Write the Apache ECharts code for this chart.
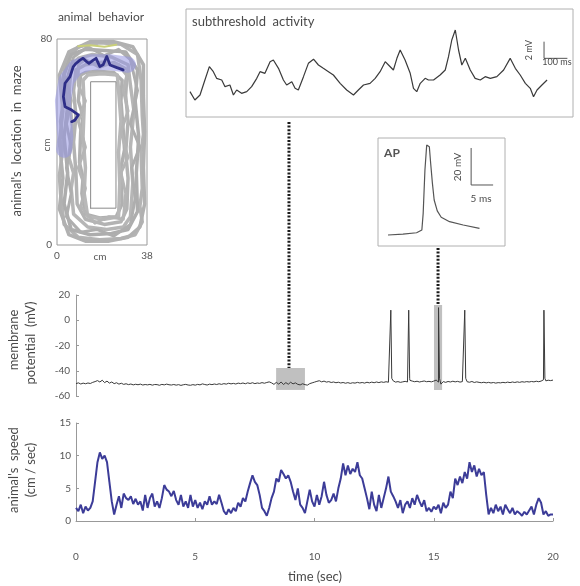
<!DOCTYPE html>
<html><head><meta charset="utf-8">
<script src="https://cdn.jsdelivr.net/npm/echarts@6/dist/echarts.min.js"></script>
<style>html,body{margin:0;padding:0;background:#fff}#c{width:580px;height:586px}</style>
</head><body><div id="c"></div><script>
// ---------- data ----------
// maze (cm): gray trajectory loops, inner obstacle, current (blue) path
const mazeLoop1 = [[4,72],[2,62],[2.5,55],[1.5,48],[2.5,41],[2,34],[1,27],[1.5,20],[3,8],[9,3],[18,2],[27,2.5],[33,4],[36,9],[35,15],[36,22],[35.5,36],[36.5,43],[36,50],[35.5,64],[34,74],[27,78],[18,78.5],[9,77],[4,72]];
const mazeLoop2 = [[10,66],[9,56],[11,50],[10,44],[9.5,32],[11,26],[10.5,20],[12,12],[18,10.5],[25,11],[27.5,16],[27,30],[28.5,37],[28,44],[27,56],[27.5,64],[24,67],[17,67.5],[12,67],[10,66]];
const mazeLoop3 = [[6,70],[5,58],[6.5,46],[5,34],[7,28],[6,22],[7,12],[13,7],[21,6],[28,7],[31,11],[32,24],[31,38],[32.5,52],[31,62],[30,70],[23,73],[15,74],[9,72.5],[6,70]];
const mazeLoop4 = [[3,66],[4.5,54],[3,42],[4.5,28],[3,16],[6,6],[14,4],[23,4.5],[30,6],[34,13],[33.5,28],[34.5,42],[33,56],[34,68],[29,75],[20,75.5],[12,76],[6,74],[3,66]];
const mazeLoop5 = [[8,68],[7,60],[8,50],[7,40],[8,28],[8.5,16],[12,10],[20,8],[27,9],[29.5,14],[30,26],[29,36],[30,48],[29,58],[29.5,66],[26,70],[19,71],[12,70],[8,68]];
const mazeLoop6 = [[5,75],[1,66],[2.5,52],[1,40],[2.5,26],[1,14],[5,4],[12,1.5],[22,1.5],[30,3],[35,7],[37,16],[36.5,30],[37,44],[36.5,58],[36.5,70],[32,77],[24,79],[14,79],[5,75]];
const mazeLoop7 = [[11,64],[11.5,54],[11,42],[12,30],[11.5,20],[13,11],[20,10],[26,11],[26.5,24],[26,36],[27,48],[26,60],[25.5,66],[19,66.5],[13,66],[11,64]];
const mazeLoop8 = [[7,73],[4,64],[6,56],[4,47],[6,38],[4,30],[6,20],[4,11],[10,5],[17,6],[24,3.5],[31,8],[33,18],[31.5,30],[35,38],[31,47],[34,60],[31,72],[26,76],[20,73.5],[13,77],[7,73]];
const mazeLoop9 = [[9,70],[9,62],[12,56],[9,48],[12,38],[9,30],[12,22],[10,15],[16,8.5],[22,11],[28,10],[29,20],[27,28],[30,34],[27,44],[30,52],[28,60],[30,68],[24,71],[18,69],[12,72],[9,70]];
const mazeInner = [[14.2,14.3],[24.9,14.3],[24.9,63.4],[14.2,63.4],[14.2,14.3]];
const mazeShade = [[30,70],[22,71],[14,71],[8,69],[4,64],[2.5,56],[3,48],[3.5,42],[3,37]];
const mazeYellow = [[9,77.2],[14,77.6],[20,77],[25,77.8]];
const mazeBlue = [[27.9,68],[25,69],[22.4,69.9],[21,73.2],[19.5,70],[18.1,69.3],[16.5,72.5],[15.3,71.8],[13.5,70.5],[12.5,71.2],[11,72.5],[9.7,71.8],[8,70.5],[6.9,69.3],[5.5,65.4],[3.4,62.8],[2.7,57.6],[3.4,53.7],[6.2,52.4],[9,50.5],[7.6,48.5],[6.2,47.9]];

// subthreshold activity (ms, mV)
const subTime = [0,21,43,64,83,100,114,136,150,171,186,200,221,243,264,286,300,321,343,357,379,400,414,436,450,464,486,507,529,550,571,593,614,643,671,700,721,743,771,793,814,836,850,871,886,900,921,943,957,971,986,1007,1021,1043,1071,1093,1107,1121,1136,1150,1164,1179,1200,1221,1243,1264,1286,1314,1343,1371,1393,1414,1436,1457,1471,1486,1507,1529];
const subVolt = [-53.0,-54.0,-53.4,-51.6,-50.0,-50.6,-51.4,-51.6,-52.4,-52.2,-53.4,-52.8,-53.2,-53.0,-52.4,-51.4,-50.6,-50.8,-49.4,-49.2,-50.2,-51.6,-52.2,-51.8,-52.6,-52.8,-51.2,-49.6,-49.1,-49.8,-50.2,-50.6,-51.0,-52.0,-52.8,-53.4,-52.8,-52.2,-52.0,-51.4,-50.6,-49.4,-49.8,-50.4,-49.0,-48.0,-49.2,-50.8,-52.6,-53.0,-52.0,-51.4,-51.6,-51.6,-51.0,-50.4,-48.8,-46.8,-45.6,-48.0,-49.8,-49.0,-50.4,-51.4,-51.6,-51.2,-51.4,-51.2,-50.4,-49.0,-50.2,-51.0,-52.0,-52.6,-53.6,-52.8,-52.2,-51.6];

// action potential (ms, mV)
const apTime = [0,3.4,6.5,7.7,8.0,8.4,8.8,9.4,9.7,10.1,10.5,11.2,12.1,14.0,17.1,20.8];
const apVolt = [-55,-54.5,-53.8,-52.3,-43.3,-19.9,-6.4,-7.3,-16.2,-27.1,-36.1,-42,-45.4,-47.8,-49.6,-51.4];

// membrane potential, sampled every 0.1 s from 0 to 20 s (mV)
const mpVals = [
-50.2,-49.6,-50.5,-49.8,-50.3,-49.7,-50.1,-49.2,-48.6,-47.8,
-48.9,-47.5,-49.4,-48.2,-49.8,-48.9,-50.2,-49.5,-50.6,-49.9,
-50.8,-50.3,-51.0,-50.5,-51.2,-50.7,-51.1,-50.6,-51.3,-50.9,
-51.2,-50.8,-51.4,-50.9,-51.0,-51.5,-50.8,-51.2,-50.6,-51.1,
-51.3,-50.9,-51.4,-51.0,-51.6,-51.1,-50.8,-51.3,-51.5,-51.0,
-51.4,-50.8,-51.2,-50.4,-50.9,-51.3,-50.6,-51.0,-50.5,-50.9,
-50.3,-50.8,-50.2,-50.6,-49.9,-50.4,-50.0,-50.5,-49.8,-50.2,
-49.7,-50.3,-49.6,-50.1,-49.5,-50.2,-49.7,-50.0,-49.4,-49.9,
-49.3,-48.8,-49.6,-50.8,-49.2,-50.6,-48.9,-50.9,-49.4,-50.7,
-49.1,-50.4,-49.6,-50.8,-51.2,-50.3,-51.0,-51.4,-50.2,-49.6,
-49.0,-48.4,-47.9,-48.8,-48.2,-49.0,-48.6,-49.3,-48.9,-49.5,
-49.1,-49.7,-49.3,-49.9,-49.4,-50.0,-49.5,-49.8,-49.2,-49.7,
-49.3,-49.8,-49.1,-49.6,-49.0,-49.5,-48.9,-49.4,-48.8,-49.2,
-48.7,-49.1,-48.5,-48.0,-49.0,-48.6,-49.2,-48.8,-48.4,-48.9,
-47.6,-48.2,-48.7,-48.3,-48.9,-48.5,-48.1,-48.7,-48.4,-48.8,
-48.2,-47.4,-49.0,-50.6,-48.6,-49.2,-48.5,-48.9,-48.3,-48.8,
-48.4,-49.0,-48.6,-48.1,-48.7,-49.1,-48.5,-49.3,-48.8,-49.2,
-49.5,-49.1,-49.6,-49.2,-49.7,-49.3,-49.8,-49.4,-49.6,-49.2,
-49.5,-49.0,-49.4,-48.9,-49.3,-48.8,-49.2,-48.7,-49.0,-48.6,
-48.9,-48.5,-48.8,-48.3,-48.7,-48.2,-47.2,-48.0,-47.5,-47.8,
-47.4];
const spikeTimes = [13.2, 13.95, 15.2, 16.3, 19.62];
const spikePeaks = [8, 8, 10, 8, 8];

// animal speed, sampled every 0.1 s from 0 to 20 s (cm/sec)
const speedVals = [
2.0,1.5,2.5,1.2,2.2,1.6,2.0,3.0,6.0,9.0,
10.5,9.5,10.0,9.0,6.0,3.0,1.0,2.5,3.8,2.0,
4.2,3.5,3.2,3.8,2.6,3.4,2.5,3.0,1.6,4.0,
2.0,3.5,4.2,2.2,3.0,2.0,3.5,5.5,4.8,4.5,
3.8,4.6,3.2,2.5,4.0,2.2,3.0,2.0,4.0,2.2,
3.2,2.0,2.8,1.8,3.0,2.5,3.8,2.5,3.0,2.6,
4.0,2.8,1.5,1.0,1.8,1.2,2.0,1.5,2.8,2.2,
3.5,3.0,4.5,5.8,7.0,6.0,5.5,4.0,2.0,1.5,
0.8,2.0,3.5,4.5,6.5,6.0,7.8,7.2,6.5,7.0,
6.0,4.5,3.2,5.0,2.5,2.0,1.2,3.0,4.8,3.0,
2.2,4.0,2.5,3.8,6.0,4.0,2.8,3.2,4.2,3.0,
5.0,6.5,8.8,7.0,8.5,7.2,8.0,7.5,9.0,7.0,
6.5,5.0,3.5,1.8,4.5,2.5,1.5,4.0,2.0,3.5,
5.0,6.8,4.5,3.8,3.0,2.0,3.2,1.2,2.5,3.0,
2.0,3.5,2.5,4.0,3.0,2.2,3.2,1.5,2.0,1.4,
2.2,1.8,2.5,1.2,2.8,2.0,2.5,4.5,3.5,6.5,
5.5,6.8,5.8,7.5,6.5,9.0,7.5,8.5,6.8,8.0,
7.0,7.5,4.0,1.0,2.0,1.2,2.5,1.5,2.2,1.0,
2.5,1.8,1.2,2.0,1.0,1.5,1.2,0.8,1.4,1.0,
1.6,2.2,1.0,2.5,3.5,2.8,1.0,1.5,0.8,1.0,
1.0];

// highlighted windows: subthreshold window and AP window (sec, mV)
const subWindow = {t0: 8.39, t1: 9.60, v0: -37.8, v1: -55.2, tLink: 8.93};
const apWindow = {t0: 15.01, t1: 15.35, v0: 12.1, v1: -55.2, tLink: 15.18};

// ---------- build ----------
const pair = (ts, vs) => ts.map((t, i) => [t, vs[i]]);
let mpData = mpVals.map((v, i) => [i / 10, v]);
spikeTimes.forEach((t, k) => {
  mpData.push([t - 0.02, -48.5], [t, spikePeaks[k]], [t + 0.04, -46]);
});
mpData.sort((a, b) => a[0] - b[0]);
const speedData = speedVals.map((v, i) => [i / 10, v]);

const FONT = 'Lato';
const TXT = '#4a4a4a';
const chart = echarts.init(document.getElementById('c'));

function mazeLine(data, color, width, z) {
  return {type: 'line', xAxisIndex: 0, yAxisIndex: 0, data: data, symbol: 'none', silent: true, z: z || 2,
    lineStyle: {color: color, width: width, cap: 'round', join: 'round'}};
}
const lblStyle = {color: '#555', fontSize: 10, fontFamily: FONT};

chart.setOption({
  animation: false,
  backgroundColor: '#fff',
  grid: [
    {left: 57, top: 39, width: 90, height: 206, show: true, borderColor: '#9a9a9a', borderWidth: 1},
    {left: 186, top: 9, width: 387, height: 108, show: true, borderColor: '#b0b0b0', borderWidth: 1},
    {left: 378, top: 138, width: 127, height: 108, show: true, borderColor: '#b0b0b0', borderWidth: 1},
    {left: 76, top: 295, width: 477, height: 101},
    {left: 76, top: 423, width: 477, height: 98}
  ],
  xAxis: [
    {gridIndex: 0, type: 'value', min: 0, max: 38, interval: 38, axisLine: {show: false}, axisTick: {show: false},
      splitLine: {show: false}, axisLabel: Object.assign({margin: 6}, lblStyle)},
    {gridIndex: 1, type: 'value', min: -17, max: 1640, show: false},
    {gridIndex: 2, type: 'value', min: -2.27, max: 26.6, show: false},
    {gridIndex: 3, type: 'value', min: 0, max: 20, show: false},
    {gridIndex: 4, type: 'value', min: 0, max: 20, interval: 5, position: 'bottom', offset: 24,
      axisLine: {show: true, lineStyle: {color: '#999', width: 1}},
      axisTick: {show: true, inside: true, length: 3, lineStyle: {color: '#999'}},
      splitLine: {show: false}, axisLabel: Object.assign({margin: 7}, lblStyle)}
  ],
  yAxis: [
    {gridIndex: 0, type: 'value', min: 0, max: 80, interval: 80, axisLine: {show: false}, axisTick: {show: false},
      splitLine: {show: false}, axisLabel: Object.assign({margin: 5}, lblStyle)},
    {gridIndex: 1, type: 'value', min: -56.04, max: -43.08, show: false},
    {gridIndex: 2, type: 'value', min: -60.95, max: -2.57, show: false},
    {gridIndex: 3, type: 'value', min: -60, max: 20, interval: 20,
      axisLine: {show: true, lineStyle: {color: '#999'}},
      axisTick: {show: true, inside: true, length: 3, lineStyle: {color: '#999'}},
      splitLine: {show: false}, axisLabel: Object.assign({margin: 6}, lblStyle)},
    {gridIndex: 4, type: 'value', min: 0, max: 15, interval: 5,
      axisLine: {show: true, lineStyle: {color: '#999'}},
      axisTick: {show: true, inside: true, length: 3, lineStyle: {color: '#999'}},
      splitLine: {show: false}, axisLabel: Object.assign({margin: 5}, lblStyle)}
  ],
  series: [
    mazeLine(mazeLoop1, '#b4b4b4', 3.5),
    mazeLine(mazeLoop2, '#b0b0b0', 3.5),
    mazeLine(mazeLoop3, '#b6b6b6', 3.5),
    mazeLine(mazeLoop4, '#adadad', 3.5),
    mazeLine(mazeLoop5, '#b3b3b3', 3.5),
    mazeLine(mazeLoop6, '#b1b1b1', 3.5),
    mazeLine(mazeLoop7, '#b8b8b8', 3.5),
    mazeLine(mazeLoop8, '#aeaeae', 3),
    mazeLine(mazeLoop9, '#b5b5b5', 3),
    mazeLine(mazeShade, 'rgba(150,150,225,0.55)', 16, 3),
    mazeLine(mazeYellow, '#c9cf7a', 2, 3),
    mazeLine(mazeInner, '#8a8a8a', 1, 4),
    mazeLine(mazeBlue, '#2e2e88', 2.8, 5),
    {type: 'line', xAxisIndex: 1, yAxisIndex: 1, data: pair(subTime, subVolt), symbol: 'none', silent: true,
      lineStyle: {color: '#3a3a3a', width: 1.2}},
    {type: 'line', xAxisIndex: 1, yAxisIndex: 1, data: [[1516, -47], [1516, -49], [1616, -49]], symbol: 'none', silent: true,
      lineStyle: {color: '#555', width: 1}},
    {type: 'line', xAxisIndex: 2, yAxisIndex: 2, data: pair(apTime, apVolt), symbol: 'none', silent: true,
      lineStyle: {color: '#555', width: 1.2}},
    {type: 'line', xAxisIndex: 2, yAxisIndex: 2, data: [[18.9, -7.97], [18.9, -27.97], [23.9, -27.97]], symbol: 'none', silent: true,
      lineStyle: {color: '#555', width: 1}},
    {type: 'line', xAxisIndex: 3, yAxisIndex: 3, data: mpData, symbol: 'none', silent: true, z: 3,
      lineStyle: {color: '#3a3a3a', width: 1},
      markArea: {silent: true, itemStyle: {color: 'rgba(140,140,140,0.55)'},
        data: [
          [{coord: [subWindow.t0, subWindow.v0]}, {coord: [subWindow.t1, subWindow.v1]}],
          [{coord: [apWindow.t0, apWindow.v0]}, {coord: [apWindow.t1, apWindow.v1]}]
        ]}},
    {type: 'line', xAxisIndex: 4, yAxisIndex: 4, data: speedData, symbol: 'none', silent: true,
      lineStyle: {color: '#3c3c98', width: 2}}
  ]
});

// link lines from the highlighted windows to the insets
const g1Bottom = chart.convertToPixel({gridIndex: 1}, [0, -56.04])[1];
const g2Bottom = chart.convertToPixel({gridIndex: 2}, [0, -60.95])[1];
const p1 = chart.convertToPixel({gridIndex: 3}, [subWindow.tLink, subWindow.v0]);
const p2 = chart.convertToPixel({gridIndex: 3}, [apWindow.tLink, apWindow.v0]);
const mazeMid = chart.convertToPixel({gridIndex: 0}, [19, 40]);
const mazeOrigin = chart.convertToPixel({gridIndex: 0}, [0, 0]);

function txt(x, y, s, opts) {
  opts = opts || {};
  return {type: 'text', x: x, y: y, rotation: opts.rot || 0, silent: true, z: 10,
    style: {text: s, x: 0, y: 0, textAlign: opts.align || 'center', textVerticalAlign: 'middle',
      fill: opts.color || TXT, font: (opts.weight || 'normal') + ' ' + (opts.size || 12) + 'px ' + FONT}};
}
const R = Math.PI / 2;
chart.setOption({
  graphic: [
    {type: 'line', silent: true, z: 9, shape: {x1: p1[0], y1: g1Bottom + 5, x2: p1[0], y2: p1[1]},
      style: {stroke: '#1a1a1a', lineWidth: 3, lineDash: [2, 1.6]}},
    {type: 'line', silent: true, z: 9, shape: {x1: p2[0], y1: g2Bottom + 2, x2: p2[0], y2: p2[1]},
      style: {stroke: '#1a1a1a', lineWidth: 3, lineDash: [2, 1.6]}},
    txt(mazeMid[0] - 2, mazeOrigin[1] + 12, 'cm', {size: 10, color: '#555'}),
    txt(mazeOrigin[0] - 10, mazeMid[1] + 3, 'cm', {rot: R, size: 10, color: '#555'}),
    txt(101, 17, 'animal  behavior', {size: 12}),
    txt(17, 141, "animal's  location  in  maze", {rot: R, size: 13}),
    txt(192, 22, 'subthreshold  activity', {align: 'left', size: 13}),
    txt(529, 50, '2 mV', {rot: R, size: 9}),
    txt(557, 62, '100 ms', {size: 9}),
    txt(392, 153, 'AP', {size: 12, weight: 'bold', color: '#555'}),
    txt(458, 167, '20 mV', {rot: R, size: 10}),
    txt(481, 199, '5 ms', {size: 10}),
    txt(14, 340, 'membrane', {rot: R, size: 13}),
    txt(31, 343, 'potential  (mV)', {rot: R, size: 13}),
    txt(14, 470, "animal's  speed", {rot: R, size: 13}),
    txt(31, 470, '(cm / sec)', {rot: R, size: 13}),
    txt(315, 577, 'time (sec)', {size: 13})
  ]
});
</script></body></html>
